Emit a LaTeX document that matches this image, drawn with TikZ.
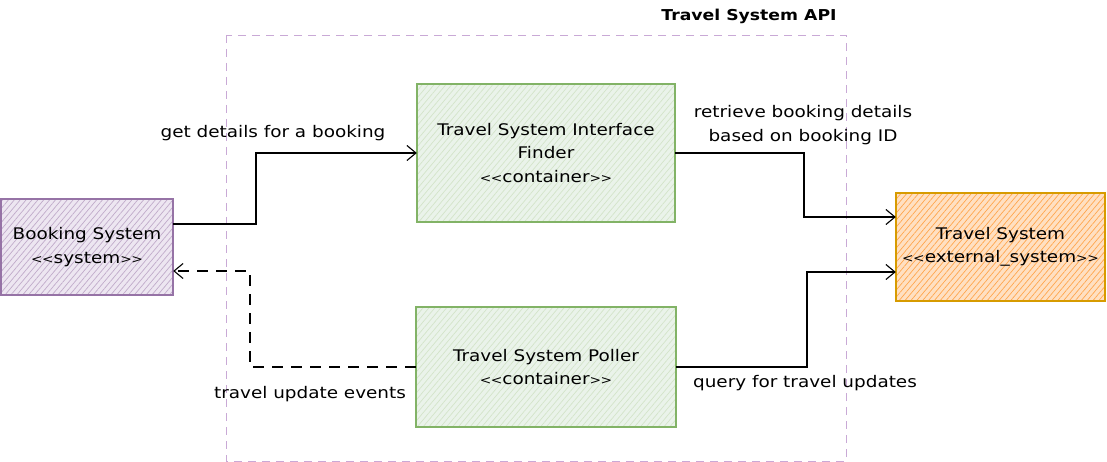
\documentclass[tikz,border=0pt]{standalone}
\usepackage{fontspec}
\setmainfont{DejaVu Sans}[FakeStretch=1.15]
\usetikzlibrary{arrows.meta,patterns.meta}
\definecolor{pfill}{HTML}{E1D5E7}
\definecolor{pline}{HTML}{9673A6}
\definecolor{gfill}{HTML}{D5E8D4}
\definecolor{gline}{HTML}{82B366}
\definecolor{ofill}{HTML}{FFCC99}
\definecolor{ohatch}{HTML}{FFA64D}
\definecolor{oline}{HTML}{D79B00}
\definecolor{bline}{HTML}{C9A9D6}
\newcommand\lgl{{\fontsize{12}{12}\selectfont<\kern-0.5pt<}}
\newcommand\rgl{{\fontsize{12}{12}\selectfont>\kern-0.5pt>}}
\tikzset{
  box/.style n args={3}{fill=#1,
    postaction={pattern={Lines[angle=50,distance=4.5pt,line width=0.7pt]}, pattern color=#3},
    postaction={draw=#2, line width=1.1pt},
    align=center, font=\fontsize{16}{23.5}\selectfont, inner sep=0pt},
  lbl/.style={align=center, font=\fontsize{16}{24}\selectfont, inner sep=0pt},
  conn/.style={draw=black, line width=1.1pt, -{Straight Barb[length=9pt,width=15pt,line width=1.1pt]}},
  dconn/.style={conn, dash pattern=on 11pt off 8pt},
}
\begin{document}
\begin{tikzpicture}[x=1pt,y=-1pt]
\useasboundingbox (0,0) rectangle (1107,462);
% boundary
\draw[bline, line width=0.8pt, dash pattern=on 8pt off 6pt] (226,35) rectangle (846,461);
\node[font=\fontsize{15}{16}\selectfont\bfseries] (title) at (749,16) {Travel System API};
% nodes
\node[box={pfill!60}{pline}{pline!60}, minimum width=172pt, minimum height=96pt] (book) at (87,247)
  {Booking System\\\lgl system\rgl};
\node[box={gfill!50}{gline}{gline!35}, minimum width=258pt, minimum height=138pt] (finder) at (546,153)
  {Travel System Interface\\Finder\\\lgl container\rgl};
\node[box={gfill!50}{gline}{gline!35}, minimum width=260pt, minimum height=120pt] (poller) at (546,367)
  {Travel System Poller\\\lgl container\rgl};
\node[box={ofill!60}{oline}{ohatch}, minimum width=209pt, minimum height=108pt] (travel) at (1000.5,247)
  {Travel System\\\lgl external\_system\rgl};
% connectors
\draw[conn] ([yshift=23pt]book.east) -- (256,224) |- (finder.west);
\draw[conn] (finder.east) -- (804,153) |- ([yshift=30pt]travel.west);
\draw[conn] (poller.east) -- (807,367) |- ([yshift=-25pt]travel.west);
\draw[dconn] (poller.west) -- (250,367) |- ([yshift=-24pt]book.east);
% labels
\node[lbl] (l1) at (273,133) {get details for a booking};
\node[lbl] (l2) at (803,125) {retrieve booking details\\based on booking ID};
\node[lbl] (l3) at (805,383) {query for travel updates};
\node[lbl] (l4) at (310,394) {travel update events};
\end{tikzpicture}
\end{document}
